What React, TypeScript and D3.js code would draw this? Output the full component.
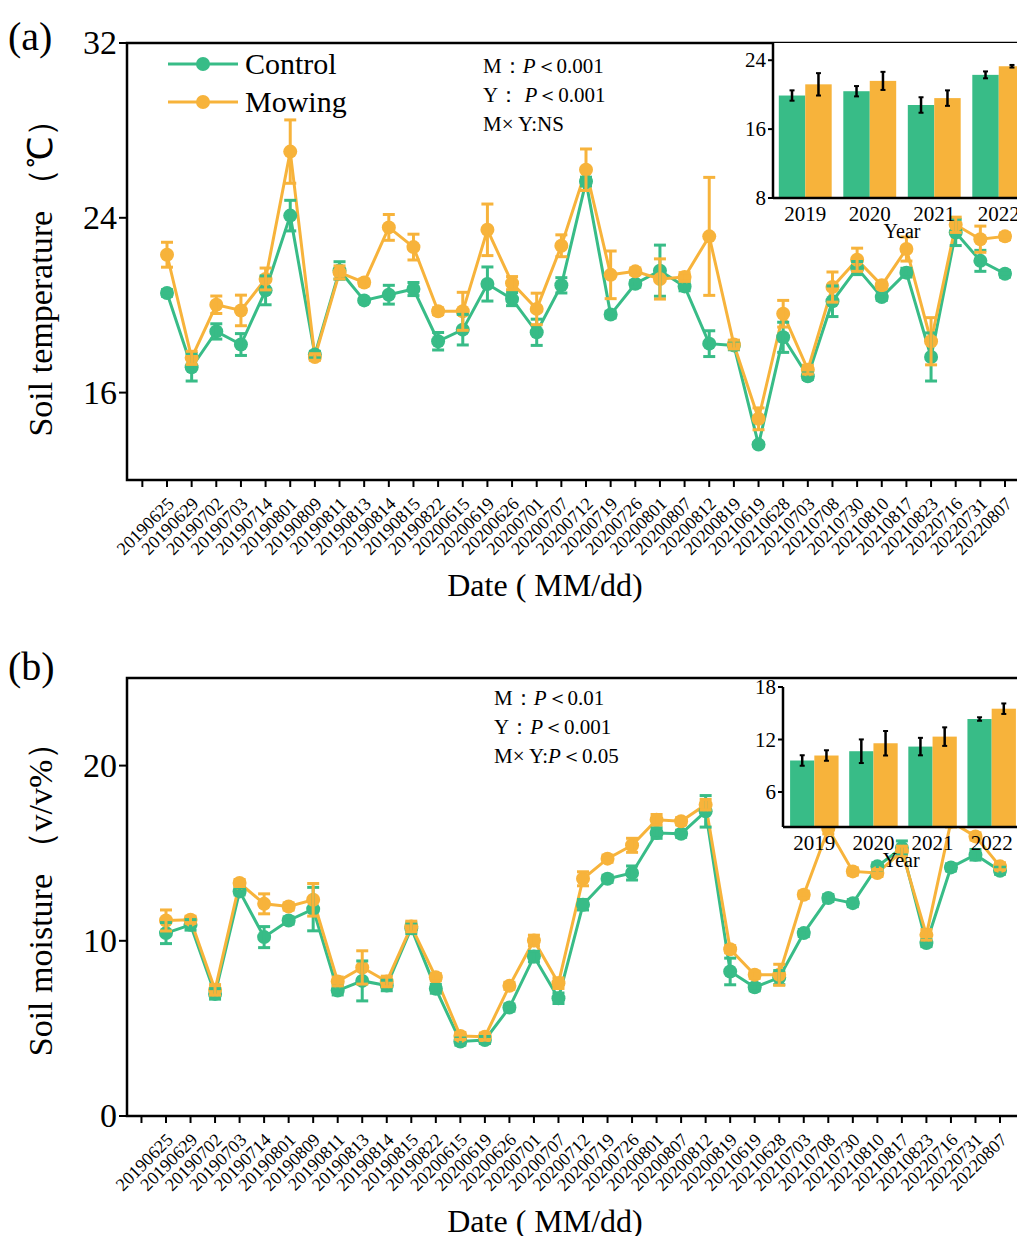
import * as d3 from "d3"

const FONT = "'Liberation Serif', 'Times New Roman', serif"
const GREEN = "#38BC87"
const ORANGE = "#F7B33B"

const dates = [
  "20190625", "20190629", "20190702", "20190703", "20190714", "20190801", "20190809", "20190811",
  "20190813", "20190814", "20190815", "20190822", "20200615", "20200619", "20200626", "20200701",
  "20200707", "20200712", "20200719", "20200726", "20200801", "20200807", "20200812", "20200819",
  "20210619", "20210628", "20210703", "20210708", "20210730", "20210810", "20210817", "20210823",
  "20220716", "20220731", "20220807",
]

// soil temperature (a)
const tempControl = [20.56, 17.16, 18.8, 18.2, 20.68, 24.1, 17.74, 21.59, 20.22, 20.48, 20.74, 18.35, 18.88, 20.97, 20.28, 18.76, 20.91, 25.66, 19.57, 20.98, 21.58, 20.86, 18.24, 18.16, 13.62, 18.53, 16.75, 20.18, 21.7, 20.37, 21.49, 17.63, 23.33, 22.03, 21.44]
const tempControlErr = [0.15, 0.63, 0.35, 0.5, 0.66, 0.7, 0.15, 0.4, 0.1, 0.43, 0.3, 0.4, 0.7, 0.78, 0.3, 0.6, 0.35, 0.2, 0.15, 0.15, 1.17, 0.2, 0.59, 0.2, 0.1, 0.69, 0.15, 0.7, 0.3, 0.15, 0.2, 1.1, 0.6, 0.48, 0.15]
const tempMowing = [22.31, 17.59, 20.02, 19.76, 21.2, 27.03, 17.63, 21.5, 21.04, 23.56, 22.66, 19.72, 19.72, 23.45, 21.01, 19.83, 22.72, 26.2, 21.39, 21.55, 21.2, 21.29, 23.15, 18.2, 14.8, 19.61, 17.05, 20.83, 22.08, 20.91, 22.57, 18.35, 23.68, 23.02, 23.15]
const tempMowingErr = [0.57, 0.3, 0.4, 0.7, 0.5, 1.45, 0.15, 0.3, 0.15, 0.59, 0.59, 0.15, 0.87, 1.18, 0.3, 0.72, 0.5, 0.95, 1.09, 0.15, 0.92, 0.2, 2.7, 0.2, 0.5, 0.61, 0.2, 0.69, 0.53, 0.15, 0.55, 1.08, 0.35, 0.6, 0.15]

// soil moisture (b)
const moistControl = [10.44, 10.91, 6.97, 12.82, 10.21, 11.16, 11.81, 7.16, 7.71, 7.45, 10.72, 7.26, 4.25, 4.34, 6.19, 9.1, 6.72, 12.06, 13.54, 13.87, 16.15, 16.11, 17.39, 8.25, 7.35, 7.9, 10.44, 12.44, 12.15, 14.25, 15.3, 9.87, 14.19, 14.91, 14.0]
const moistControlErr = [0.6, 0.3, 0.3, 0.2, 0.6, 0.2, 1.24, 0.25, 1.14, 0.3, 0.3, 0.25, 0.2, 0.2, 0.2, 0.3, 0.3, 0.3, 0.2, 0.4, 0.3, 0.2, 0.9, 0.76, 0.2, 0.4, 0.2, 0.2, 0.2, 0.2, 0.4, 0.2, 0.2, 0.3, 0.2]
const moistMowing = [11.16, 11.2, 7.2, 13.3, 12.11, 11.96, 12.34, 7.68, 8.48, 7.68, 10.82, 7.92, 4.57, 4.53, 7.43, 10.02, 7.58, 13.54, 14.69, 15.45, 16.91, 16.82, 17.77, 9.52, 8.06, 8.06, 12.63, 16.4, 13.96, 13.87, 15.1, 10.34, 16.8, 15.96, 14.25]
const moistMowingErr = [0.6, 0.2, 0.3, 0.2, 0.57, 0.2, 0.93, 0.25, 0.95, 0.3, 0.3, 0.2, 0.2, 0.2, 0.2, 0.3, 0.3, 0.4, 0.2, 0.4, 0.3, 0.2, 0.3, 0.2, 0.2, 0.6, 0.2, 0.3, 0.2, 0.2, 0.3, 0.3, 0.3, 0.2, 0.2]

// yearly means (insets)
const years = ["2019", "2020", "2021", "2022"]
const yearTempControl = [19.9, 20.4, 18.8, 22.3]
const yearTempControlErr = [0.6, 0.6, 0.9, 0.4]
const yearTempMowing = [21.2, 21.6, 19.6, 23.3]
const yearTempMowingErr = [1.3, 1.05, 0.9, 0.15]
const yearMoistControl = [9.6, 10.66, 11.19, 14.34]
const yearMoistControlErr = [0.6, 1.35, 1.0, 0.2]
const yearMoistMowing = [10.17, 11.57, 12.33, 15.52]
const yearMoistMowingErr = [0.6, 1.4, 1.06, 0.6]

const tempTicks = [16, 24, 32]
const moistTicks = [0, 10, 20]
const insetTempTicks = [8, 16, 24]
const insetMoistTicks = [6, 12, 18]

type Series = { values: number[]; err: number[]; color: string }

function Inset(props: {
  left: number; top: number; bottom: number; domain: [number, number]; ticks: number[]
  padOuter: number; width: number; control: number[]; controlErr: number[]; mowing: number[]; mowingErr: number[]
}) {
  const { left, top, bottom } = props
  const y = d3.scaleLinear().domain(props.domain).range([bottom, top])
  const x = d3.scaleBand().domain(years).range([left, left + props.width]).paddingInner(0.18).paddingOuter(props.padOuter)
  const sub = d3.scaleBand().domain(["c", "m"]).range([0, x.bandwidth()])
  const groups = [
    { key: "c", vals: props.control, err: props.controlErr, color: GREEN },
    { key: "m", vals: props.mowing, err: props.mowingErr, color: ORANGE },
  ]
  return (
    <g>
      <rect x={left} y={top} width={1017 - left} height={bottom - top} fill="#fff" />
      {groups.map((g) =>
        years.map((yr, i) => {
          const bx = (x(yr) || 0) + (sub(g.key) || 0)
          const cx = bx + sub.bandwidth() / 2
          return (
            <g key={g.key + yr}>
              <rect x={bx} y={y(g.vals[i])} width={sub.bandwidth()} height={bottom - y(g.vals[i])} fill={g.color} />
              <line x1={cx} x2={cx} y1={y(g.vals[i] - g.err[i])} y2={y(g.vals[i] + g.err[i])} stroke="#000" strokeWidth={2.5} />
              <line x1={cx - 2.5} x2={cx + 2.5} y1={y(g.vals[i] - g.err[i])} y2={y(g.vals[i] - g.err[i])} stroke="#000" strokeWidth={2} />
              <line x1={cx - 2.5} x2={cx + 2.5} y1={y(g.vals[i] + g.err[i])} y2={y(g.vals[i] + g.err[i])} stroke="#000" strokeWidth={2} />
            </g>
          )
        })
      )}
      <line x1={left} x2={left} y1={top} y2={bottom} stroke="#000" strokeWidth={2.5} />
      <line x1={left} x2={1017} y1={bottom} y2={bottom} stroke="#000" strokeWidth={2.5} />
      {props.ticks.map((t) => (
        <g key={t}>
          <line x1={left - 5} x2={left} y1={y(t)} y2={y(t)} stroke="#000" strokeWidth={2} />
          <text x={left - 7} y={y(t) + 7} textAnchor="end" fontSize={21} fontFamily={FONT}>{t}</text>
        </g>
      ))}
      {years.map((yr) => (
        <text key={yr} x={(x(yr) || 0) + x.bandwidth() / 2} y={bottom + 23} textAnchor="middle" fontSize={21} fontFamily={FONT}>{yr}</text>
      ))}
      <text x={left + 2 * x.step()} y={bottom + 40} textAnchor="middle" fontSize={20} fontFamily={FONT}>Year</text>
    </g>
  )
}

function Panel(props: {
  top: number; bottom: number; xRange: [number, number]; domain: [number, number]; ticks: number[]
  control: Series; mowing: Series; label: string; labelY: number; yTitle: string; yTitleY: number
  notes: string[][]; notesX: number; notesY: number; legend?: boolean; titleY: number
  children?: any
}) {
  const left = 127
  const { top, bottom } = props
  const x = d3.scaleLinear().domain([0, dates.length - 1]).range(props.xRange)
  const y = d3.scaleLinear().domain(props.domain).range([bottom, top])
  const line = d3.line<number>().x((_, i) => x(i)).y((d) => y(d))
  const tickIdx = d3.range(-1, dates.length)
  const series = [props.control, props.mowing]
  return (
    <g>
      <text x={8} y={props.labelY} fontSize={40} fontFamily={FONT}>{props.label}</text>
      <text transform={`translate(52,${props.yTitleY}) rotate(-90)`} textAnchor="middle" fontSize={34} fontFamily={FONT}>{props.yTitle}</text>
      {/* frame */}
      <path d={`M${1030},${top}H${left}V${bottom}H${1030}`} fill="none" stroke="#000" strokeWidth={2.5} />
      {props.ticks.map((t) => (
        <g key={t}>
          <line x1={left - 8} x2={left} y1={y(t)} y2={y(t)} stroke="#000" strokeWidth={2} />
          <text x={left - 10} y={y(t) + 11} textAnchor="end" fontSize={34} fontFamily={FONT}>{t}</text>
        </g>
      ))}
      {tickIdx.map((i) => (
        <g key={i}>
          <line x1={x(i)} x2={x(i)} y1={bottom} y2={bottom + 7} stroke="#000" strokeWidth={2} />
          {i >= 0 && (
            <text transform={`translate(${x(i) + 8},${bottom + 25}) rotate(-45)`} textAnchor="end" fontSize={18} fontFamily={FONT}>{dates[i]}</text>
          )}
        </g>
      ))}
      <text x={545} y={props.titleY} textAnchor="middle" fontSize={32} fontFamily={FONT}>Date ( MM/dd)</text>
      {/* series */}
      {series.map((s, k) => (
        <path key={"l" + k} d={line(s.values) || ""} fill="none" stroke={s.color} strokeWidth={3} />
      ))}
      {series.map((s, k) =>
        s.values.map((v, i) => <circle key={"c" + k + i} cx={x(i)} cy={y(v)} r={7} fill={s.color} />)
      )}
      {series.map((s, k) =>
        s.values.map((v, i) => {
          const y0 = y(v - s.err[i])
          const y1 = y(v + s.err[i])
          const cx = x(i)
          return (
            <g key={"e" + k + i} stroke={s.color} strokeWidth={3}>
              <line x1={cx} x2={cx} y1={y0} y2={y1} />
              <line x1={cx - 6} x2={cx + 6} y1={y0} y2={y0} />
              <line x1={cx - 6} x2={cx + 6} y1={y1} y2={y1} />
            </g>
          )
        })
      )}
      {props.legend && (
        <g>
          {[
            { name: "Control", color: GREEN, yy: 64 },
            { name: "Mowing", color: ORANGE, yy: 102 },
          ].map((l) => (
            <g key={l.name}>
              <line x1={168} x2={238} y1={l.yy} y2={l.yy} stroke={l.color} strokeWidth={3} />
              <circle cx={203} cy={l.yy} r={7} fill={l.color} />
              <text x={245} y={l.yy + 10} fontSize={30} fontFamily={FONT}>{l.name}</text>
            </g>
          ))}
        </g>
      )}
      {props.notes.map((n, i) => (
        <text key={i} x={props.notesX} y={props.notesY + i * 29} fontSize={21} fontFamily={FONT}>
          {n.map((part, j) =>
            part === "P" ? (
              <tspan key={j} fontStyle="italic">P</tspan>
            ) : (
              <tspan key={j}>{part}</tspan>
            )
          )}
        </text>
      ))}
      {props.children}
    </g>
  )
}

export default function App() {
  return (
    <svg width={1017} height={1236} style={{ position: "absolute", left: 0, top: 0, background: "#fff" }}>
      <rect width={1017} height={1236} fill="#fff" />
      <Panel
        top={43} bottom={480} xRange={[167, 1005]} domain={[12, 32]} ticks={tempTicks}
        control={{ values: tempControl, err: tempControlErr, color: GREEN }}
        mowing={{ values: tempMowing, err: tempMowingErr, color: ORANGE }}
        label="(a)" labelY={50} yTitle="Soil temperature （℃）" yTitleY={270}
        notes={[["M：", "P", "＜0.001"], ["Y： ", "P", "＜0.001"], ["M× Y:NS"]]} notesX={483} notesY={73}
        legend titleY={596}
      >
        <Inset left={773} top={43} bottom={198} domain={[8, 26]} ticks={insetTempTicks} padOuter={0.09} width={258}
          control={yearTempControl} controlErr={yearTempControlErr} mowing={yearTempMowing} mowingErr={yearTempMowingErr} />
      </Panel>
      <Panel
        top={678} bottom={1116} xRange={[166, 1000]} domain={[0, 25]} ticks={moistTicks}
        control={{ values: moistControl, err: moistControlErr, color: GREEN }}
        mowing={{ values: moistMowing, err: moistMowingErr, color: ORANGE }}
        label="(b)" labelY={680} yTitle="Soil moisture （v/v%）" yTitleY={891}
        notes={[["M：", "P", "＜0.01"], ["Y：", "P", "＜0.001"], ["M× Y:", "P", "＜0.05"]]} notesX={494} notesY={705}
        titleY={1232}
      >
        <Inset left={783} top={687} bottom={827} domain={[2, 18]} ticks={insetMoistTicks} padOuter={0.12} width={240}
          control={yearMoistControl} controlErr={yearMoistControlErr} mowing={yearMoistMowing} mowingErr={yearMoistMowingErr} />
      </Panel>
    </svg>
  )
}
